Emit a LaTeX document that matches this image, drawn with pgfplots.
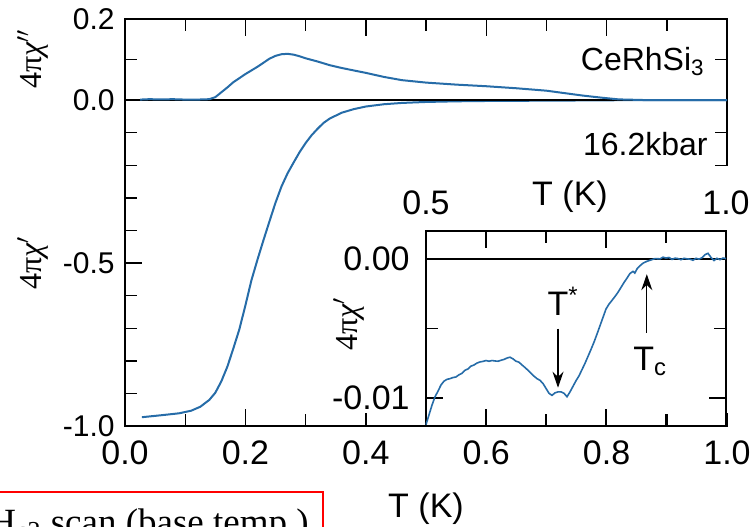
\documentclass[border=0pt]{standalone}
\usepackage{pgfplots}
\pgfplotsset{compat=1.18}
\usetikzlibrary{arrows.meta}
\usepackage{fontspec}
\setmainfont{Liberation Sans}
\newfontfamily\serifgr{Liberation Serif}
\definecolor{curve}{RGB}{38,108,168}

\begin{document}
\begin{tikzpicture}
\pgfplotsset{
  base/.style={
    scale only axis,
    anchor=south west,
    xmin=0, xmax=1,
    axis line style={line width=0.7pt},
    tick style={line width=0.7pt, black},
    tick align=inside,
    major tick length=8.5pt,
    minor tick length=6pt,
    xtick={0,0.2,0.4,0.6,0.8,1.0},
    minor x tick num=1,
    scaled ticks=false,
    ticklabel style={font=\fontsize{17}{20}\selectfont},
  }
}
% ---------- lower main axis (chi') ----------
\begin{axis}[base, at={(62.5pt,50pt)}, width=301pt, height=163pt,
  ymin=-1, ymax=0,
  xtick pos=bottom, xticklabels={0.0,0.2,0.4,0.6,0.8,1.0},
  xticklabel style={inner sep=0pt, yshift=-7pt, anchor=north},
  ytick={-1,-0.5,0}, minor y tick num=4, ytick pos=both,
  yticklabels={-1.0,-0.5,{}},
  yticklabel style={font=\fontsize{15}{18}\selectfont, inner sep=0pt, xshift=-5pt, anchor=east}]
\addplot[curve, line width=1pt] coordinates {
(0.028,-0.973) (0.06,-0.967) (0.09,-0.961) (0.11,-0.953) (0.125,-0.941)
(0.14,-0.920) (0.15,-0.898) (0.16,-0.863) (0.17,-0.818) (0.18,-0.762)
(0.19,-0.703) (0.20,-0.630) (0.21,-0.553) (0.22,-0.490) (0.23,-0.430)
(0.24,-0.372) (0.25,-0.315) (0.26,-0.265) (0.27,-0.225) (0.28,-0.192)
(0.29,-0.160) (0.30,-0.132) (0.31,-0.108) (0.32,-0.088) (0.33,-0.070)
(0.34,-0.057) (0.36,-0.039) (0.38,-0.028) (0.40,-0.020) (0.43,-0.013)
(0.46,-0.009) (0.50,-0.006) (0.55,-0.004) (0.60,-0.003) (0.70,-0.002)
(0.80,-0.001) (0.85,0) (0.90,0) (1.0,0)};
\end{axis}
% ---------- upper main axis (chi'') ----------
\begin{axis}[base, at={(62.5pt,213pt)}, width=301pt, height=40.5pt,
  ymin=0, ymax=0.2,
  xtick pos=top, xticklabels={},
  ytick={0,0.2}, minor y tick num=1, ytick pos=both,
  yticklabels={0.0,0.2},
  yticklabel style={font=\fontsize{15}{18}\selectfont, inner sep=0pt, xshift=-5pt, anchor=east},
  clip=false]
\addplot[curve, line width=1pt] coordinates {
(0.025,0.001) (0.04,0.002) (0.06,0.0015) (0.08,0.002) (0.10,0.001)
(0.12,0.001) (0.14,0.002) (0.15,0.007) (0.16,0.019) (0.17,0.031)
(0.18,0.044) (0.19,0.054) (0.20,0.064) (0.21,0.073) (0.22,0.082)
(0.23,0.092) (0.24,0.102) (0.25,0.109) (0.26,0.113) (0.27,0.114)
(0.28,0.112) (0.29,0.108) (0.30,0.103) (0.32,0.095) (0.34,0.086)
(0.36,0.079) (0.38,0.073) (0.40,0.067) (0.43,0.057) (0.46,0.049)
(0.50,0.043) (0.55,0.038) (0.60,0.034) (0.65,0.029) (0.70,0.023)
(0.73,0.017) (0.76,0.011) (0.79,0.006) (0.82,0.0015) (0.86,0.0)
(0.90,0.0) (1.00,0.0)};
\node[anchor=base east, inner sep=0pt, font=\fontsize{16}{19}\selectfont]
  at (axis cs:0.9635,0.074) {CeRhSi\textsubscript{3}};
\end{axis}
\node[anchor=base east, inner sep=0pt, font=\fontsize{16}{19}\selectfont]
  at (354pt,185.5pt) {16.2kbar};
% white background of inset
\fill[white] (165pt,56.5pt) rectangle (372.5pt,180pt);
% ---------- inset ----------
\begin{axis}[base, at={(213pt,50pt)}, width=150pt, height=97.5pt,
  xmin=0.5, xmax=1, ymin=-0.012, ymax=0.002,
  xtick={0.6,0.8,1.0}, xtick pos=both, xticklabels={},
  ytick={-0.01,0}, minor y tick num=1, ytick pos=both,
  yticklabels={-0.01,0.00},
  yticklabel style={inner sep=0pt, xshift=-8pt, anchor=east},
  clip=false]
\addplot[black, line width=0.9pt] coordinates {(0.5,0) (1,0)};
\addplot[curve, line width=0.8pt] coordinates {
(0.500,-0.01190) (0.505,-0.01120) (0.510,-0.01050) (0.515,-0.00990) (0.520,-0.00950)
(0.525,-0.00905) (0.530,-0.00878) (0.535,-0.00865) (0.540,-0.00860) (0.545,-0.00852)
(0.550,-0.00848) (0.555,-0.00832) (0.560,-0.00822) (0.565,-0.00800) (0.570,-0.00790)
(0.575,-0.00770) (0.580,-0.00762) (0.585,-0.00748) (0.590,-0.00740) (0.595,-0.00736)
(0.600,-0.00730) (0.605,-0.00735) (0.610,-0.00730) (0.615,-0.00733) (0.620,-0.00735)
(0.625,-0.00728) (0.630,-0.00722) (0.635,-0.00712) (0.640,-0.00706) (0.645,-0.00718)
(0.650,-0.00735) (0.655,-0.00742) (0.660,-0.00762) (0.665,-0.00780) (0.670,-0.00800)
(0.675,-0.00822) (0.680,-0.00842) (0.685,-0.00860) (0.690,-0.00872) (0.695,-0.00895)
(0.700,-0.00930) (0.705,-0.00965) (0.710,-0.00980) (0.715,-0.00962) (0.720,-0.00955)
(0.725,-0.00955) (0.730,-0.00965) (0.735,-0.00990) (0.740,-0.00955) (0.745,-0.00915)
(0.750,-0.00875) (0.755,-0.00840) (0.760,-0.00795) (0.765,-0.00750) (0.770,-0.00700)
(0.775,-0.00650) (0.780,-0.00598) (0.785,-0.00540) (0.790,-0.00480) (0.795,-0.00420)
(0.800,-0.00360) (0.805,-0.00325) (0.810,-0.00298) (0.815,-0.00270) (0.820,-0.00240)
(0.825,-0.00205) (0.830,-0.00170) (0.835,-0.00138) (0.840,-0.00105) (0.845,-0.00090)
(0.848,-0.00102) (0.852,-0.00070) (0.857,-0.00048) (0.862,-0.00030) (0.868,-0.00018)
(0.875,-0.00008) (0.882,0.00002) (0.890,0.00000) (0.895,0.00012) (0.900,0.00006)
(0.905,0.00010) (0.910,-0.00004) (0.915,0.00005) (0.920,0.00002) (0.925,-0.00006)
(0.930,0.00004) (0.935,0.00000) (0.940,-0.00002) (0.945,-0.00010) (0.950,0.00004)
(0.955,-0.00002) (0.960,0.00008) (0.965,0.00030) (0.970,0.00040) (0.975,0.00010)
(0.980,-0.00012) (0.985,0.00004) (0.990,-0.00006) (0.995,0.00006) (1.000,0.00002)};
\draw[line width=0.6pt, -{Stealth[length=8pt,width=5.5pt]}] (axis cs:0.72,-0.0050) -- (axis cs:0.72,-0.00925);
\draw[line width=0.6pt, -{Stealth[length=8pt,width=5.5pt]}] (axis cs:0.868,-0.0053) -- (axis cs:0.868,-0.0011);
\node[anchor=base west, inner sep=0pt, font=\fontsize{17}{20}\selectfont] at (axis cs:0.702,-0.0041) {T\textsuperscript{*}};
\node[anchor=base west, inner sep=0pt, font=\fontsize{17}{20}\selectfont] at (axis cs:0.845,-0.0080) {T\textsubscript{c}};
\node[anchor=base, inner sep=0pt, font=\fontsize{17}{20}\selectfont] at (axis cs:0.5,0.002) [yshift=8.5pt] {0.5};
\node[anchor=base, inner sep=0pt, font=\fontsize{17}{20}\selectfont] at (axis cs:1.0,0.002) [yshift=8.5pt] {1.0};
\node[anchor=base, inner sep=0pt, font=\fontsize{17}{20}\selectfont] at (axis cs:0.74,0.002) [yshift=13pt] {T (K)};
\end{axis}
% axis labels
\node[rotate=90, inner sep=0pt, font=\serifgr\fontsize{16}{19}\selectfont] at (16.5pt,233.5pt) {4π\textit{χ}$^{\prime\prime}$};
\node[rotate=90, inner sep=0pt, font=\serifgr\fontsize{16}{19}\selectfont] at (16.5pt,131.5pt) {4π\textit{χ}$^{\prime}$};
\node[rotate=90, inner sep=0pt, font=\serifgr\fontsize{16}{19}\selectfont] at (174.5pt,101pt) {4π\textit{χ}$^{\prime}$};
\node[anchor=base, inner sep=0pt, font=\fontsize{17}{20}\selectfont] at (213pt,4.5pt) {T (K)};
% red annotation box, cut by the picture edge
\begin{scope}
\clip (0pt,0pt) rectangle (376.5pt,263pt);
\draw[red, line width=1pt] (-20pt,-20pt) rectangle (161.5pt,17pt);
\node[anchor=base west, inner sep=0pt, font=\serifgr\fontsize{18.5}{22}\selectfont] at (-5.5pt,-4pt) {H\textsubscript{c2} scan (base temp.)};
\end{scope}
\pgfresetboundingbox
\useasboundingbox (0pt,0pt) rectangle (376.5pt,263pt);
\end{tikzpicture}
\end{document}
